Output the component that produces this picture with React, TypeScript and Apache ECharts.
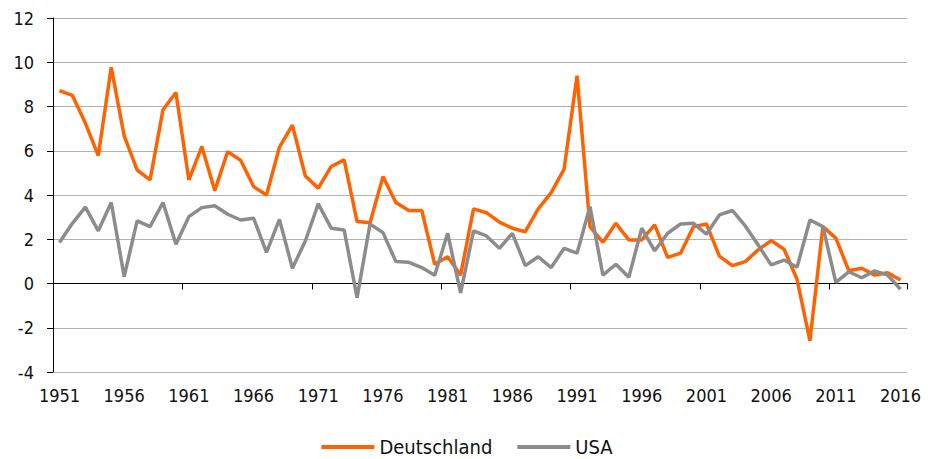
import React, { useEffect, useRef } from "react";
import * as echarts from "echarts";

const years: string[] = [];
for (let y = 1951; y <= 2016; y++) years.push(String(y));

const deutschland = [
  8.72, 8.5, 7.25, 5.78, 9.77, 6.67, 5.13, 4.68, 7.85, 8.63,
  4.68, 6.19, 4.2, 5.96, 5.57, 4.38, 4.0, 6.16, 7.16, 4.86,
  4.31, 5.29, 5.59, 2.8, 2.75, 4.83, 3.66, 3.3, 3.3, 0.87,
  1.21, 0.38, 3.37, 3.2, 2.77, 2.5, 2.34, 3.37, 4.11, 5.17,
  9.39, 2.57, 1.86, 2.72, 1.97, 1.97, 2.65, 1.18, 1.37, 2.57,
  2.69, 1.24, 0.81, 0.99, 1.52, 1.94, 1.55, 0.19, -2.59, 2.57,
  2.05, 0.58, 0.69, 0.38, 0.49, 0.16,
];

const usa = [
  1.85, 2.72, 3.45, 2.38, 3.66, 0.31, 2.83, 2.57, 3.66, 1.77,
  3.02, 3.43, 3.51, 3.13, 2.87, 2.95, 1.41, 2.9, 0.69, 1.92,
  3.6, 2.5, 2.42, -0.64, 2.69, 2.3, 0.99, 0.96, 0.72, 0.37,
  2.27, -0.42, 2.38, 2.15, 1.59, 2.27, 0.81, 1.21, 0.72, 1.59,
  1.37, 3.48, 0.38, 0.87, 0.28, 2.5, 1.48, 2.27, 2.69, 2.72,
  2.23, 3.1, 3.3, 2.6, 1.74, 0.84, 1.06, 0.73, 2.87, 2.57,
  0.05, 0.53, 0.26, 0.57, 0.38, -0.26,
];

const FONT = "'Liberation Sans Narrow', 'DejaVu Sans Condensed', 'Liberation Sans', sans-serif";

export default function App() {
  const ref = useRef<HTMLDivElement>(null);
  useEffect(() => {
    if (!ref.current) return;
    const chart = echarts.init(ref.current, undefined, { renderer: "svg" });
    chart.setOption({
      animation: false,
      textStyle: { fontFamily: FONT },
      grid: { left: 53, right: 27, top: 18, bottom: 87, containLabel: false },
      legend: {
        bottom: -3,
        left: "center",
        icon: "rect",
        itemWidth: 53,
        itemHeight: 4,
        itemGap: 25,
        textStyle: { fontSize: 20, color: "#111", fontFamily: FONT },
        data: ["Deutschland", "USA"],
      },
      xAxis: [
        {
          type: "category",
          data: years,
          boundaryGap: true,
          axisLine: { onZero: true, lineStyle: { color: "#000", width: 1 } },
          axisTick: { show: true, interval: 9, length: 6, lineStyle: { color: "#000" } },
          axisLabel: { show: false },
          splitLine: { show: false },
        },
        {
          type: "category",
          data: years,
          position: "bottom",
          boundaryGap: true,
          axisLine: { show: false },
          axisTick: { show: false },
          axisLabel: {
            interval: 4,
            fontSize: 18,
            color: "#111",
            margin: 14,
            fontFamily: FONT,
          },
          splitLine: { show: false },
        },
      ],
      yAxis: {
        type: "value",
        min: -4,
        max: 12,
        interval: 2,
        axisLine: { show: true, lineStyle: { color: "#000", width: 1 } },
        axisTick: { show: true, length: 6, lineStyle: { color: "#000" } },
        axisLabel: { fontSize: 18, color: "#111", margin: 19, fontFamily: FONT },
        splitLine: { lineStyle: { color: "#b3b3b3", width: 1 } },
      },
      series: [
        {
          name: "Deutschland",
          type: "line",
          xAxisIndex: 0,
          data: deutschland,
          symbol: "none",
          lineStyle: { color: "#FF6200", width: 3.5 },
          itemStyle: { color: "#FF6200" },
          z: 3,
        },
        {
          name: "USA",
          type: "line",
          xAxisIndex: 0,
          data: usa,
          symbol: "none",
          lineStyle: { color: "#8c8c8c", width: 3.5 },
          itemStyle: { color: "#8c8c8c" },
          z: 4,
        },
      ],
    });
    return () => chart.dispose();
  }, []);
  return <div ref={ref} style={{ width: 934, height: 459, position: "absolute", left: 0, top: 0 }} />;
}
